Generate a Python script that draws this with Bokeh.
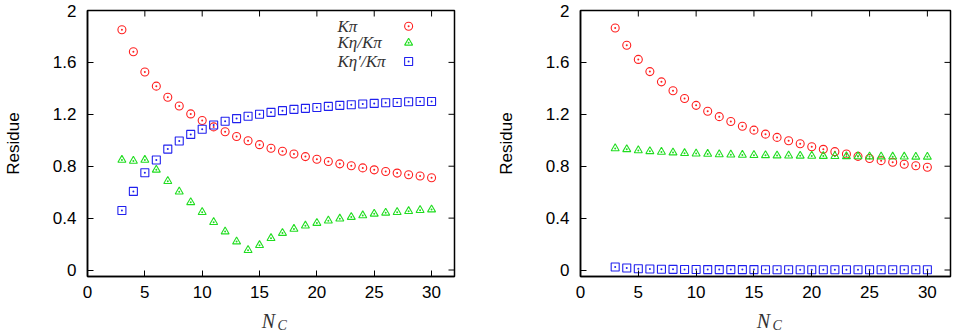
import math
from bokeh.plotting import figure
from bokeh.layouts import row, column
from bokeh.models import FixedTicker, CustomJSTickFormatter, Range1d, Label
from bokeh.core.properties import value
from bokeh.embed import file_html
from bokeh.resources import INLINE

# ---------------- data ----------------
NC = [3, 4, 5, 6, 7, 8, 9, 10, 11, 12, 13, 14, 15, 16, 17, 18, 19, 20,
      21, 22, 23, 24, 25, 26, 27, 28, 29, 30]

# left panel
left_kpi = [1.852, 1.682, 1.526, 1.417, 1.332, 1.264, 1.203, 1.152, 1.103, 1.065,
            1.029, 0.996, 0.966, 0.938, 0.915, 0.894, 0.874, 0.854, 0.836, 0.818,
            0.803, 0.787, 0.772, 0.759, 0.747, 0.734, 0.724, 0.711]
left_keta = [0.848, 0.841, 0.848, 0.772, 0.685, 0.604, 0.522, 0.446, 0.369, 0.296,
             0.219, 0.153, 0.191, 0.245, 0.285, 0.316, 0.341, 0.362, 0.380, 0.395,
             0.408, 0.420, 0.433, 0.441, 0.446, 0.453, 0.461, 0.466]
left_ketap = [0.459, 0.606, 0.749, 0.848, 0.932, 0.994, 1.045, 1.085, 1.118, 1.146,
              1.167, 1.185, 1.200, 1.215, 1.228, 1.238, 1.246, 1.253, 1.261, 1.269,
              1.274, 1.279, 1.284, 1.289, 1.291, 1.297, 1.299, 1.299]

# right panel
right_kpi = [1.865, 1.732, 1.623, 1.529, 1.450, 1.381, 1.322, 1.269, 1.223, 1.182,
             1.144, 1.108, 1.078, 1.047, 1.022, 0.996, 0.973, 0.950, 0.930, 0.912,
             0.894, 0.876, 0.859, 0.843, 0.831, 0.815, 0.803, 0.792]
right_keta = [0.937, 0.930, 0.922, 0.915, 0.910, 0.905, 0.900, 0.897, 0.894, 0.891,
              0.889, 0.887, 0.885, 0.884, 0.882, 0.881, 0.880, 0.879, 0.878, 0.877,
              0.876, 0.875, 0.874, 0.874, 0.873, 0.873, 0.872, 0.872]
right_ketap = [0.023, 0.015, 0.010, 0.008, 0.006, 0.005, 0.004, 0.004, 0.003, 0.003,
               0.003, 0.003, 0.003, 0.002, 0.002, 0.002, 0.002, 0.002, 0.002, 0.002,
               0.002, 0.002, 0.002, 0.002, 0.002, 0.002, 0.002, 0.002]

series_labels = ["Kπ", "Kη/Kπ", "Kη′/Kπ"]
x_title_main = "N"
x_title_sub = "C"
y_title = "Residue"
x_ticks = [0, 5, 10, 15, 20, 25, 30]
y_ticks = [0, 0.4, 0.8, 1.2, 1.6, 2]
X_MIN, X_MAX = 0, 32
Y_MIN, Y_MAX = -0.05, 2.0

RED = "#ff2020"
GREEN = "#20dd20"
BLUE = "#2020ee"
MARKERS = ["circle_dot", "triangle_dot", "square_dot"]
COLORS = [RED, GREEN, BLUE]

SANS = "Liberation Sans"
SERIF = "Liberation Serif"
TEXT_GREY = "#333333"

PLOT_H = 310
STRIP_H = 22
PANEL_W = 477


def make_panel(border_left, border_right, series, with_legend):
    p = figure(width=PANEL_W, height=PLOT_H, output_backend="svg", toolbar_location=None,
               x_range=Range1d(X_MIN, X_MAX), y_range=Range1d(Y_MIN, Y_MAX),
               min_border_left=border_left, min_border_right=border_right,
               min_border_top=10, min_border_bottom=34)
    p.grid.visible = False
    p.background_fill_color = "white"
    p.border_fill_color = "white"
    p.outline_line_color = "black"
    p.outline_line_width = 1.5

    ytf = CustomJSTickFormatter(code="return String(Math.round(tick*10)/10);")
    for ax in p.xaxis:
        ax.ticker = FixedTicker(ticks=x_ticks)
    for ax in p.yaxis:
        ax.ticker = FixedTicker(ticks=y_ticks)
        ax.formatter = ytf

    for ax in list(p.xaxis) + list(p.yaxis):
        ax.major_tick_in = 6
        ax.major_tick_out = 0
        ax.minor_tick_line_color = None
        ax.axis_line_width = 1.5
        ax.major_tick_line_width = 1
        ax.major_label_text_font = SANS
        ax.major_label_text_font_size = "17px"
        ax.major_label_text_color = "black"

    p.xaxis.major_label_standoff = 9
    p.yaxis.major_label_standoff = 11
    p.yaxis.axis_label = y_title
    p.yaxis.axis_label_text_font = SANS
    p.yaxis.axis_label_text_font_style = "normal"
    p.yaxis.axis_label_text_font_size = "17px"
    p.yaxis.axis_label_text_color = "black"
    p.yaxis.axis_label_standoff = 27

    # mirrored inward ticks on top and right edges (outer half clipped by frame)
    p.scatter(x_ticks, [Y_MAX] * len(x_ticks), marker="dash", angle=math.pi / 2,
              size=12, line_color="black", line_width=1)
    p.scatter([X_MAX] * len(y_ticks), y_ticks, marker="dash",
              size=12, line_color="black", line_width=1)

    for ys, mk, col in zip(series, MARKERS, COLORS):
        p.scatter(NC, ys, marker=mk, size=8, line_color=col, fill_color=None,
                  line_width=1.1)

    if with_legend:
        LEG_TEXT_X = 21.8
        LEG_MARK_X = 28.0
        LEG_Y = [1.879, 1.751, 1.607]
        for lab, yy, mk, col in zip(series_labels, LEG_Y, MARKERS, COLORS):
            p.add_layout(Label(x=LEG_TEXT_X, y=yy, text=lab, text_font=SERIF,
                               text_font_style="italic", text_font_size="17px",
                               text_color=TEXT_GREY, text_align="left",
                               text_baseline="middle"))
            p.scatter([LEG_MARK_X], [yy], marker=mk, size=8, line_color=col,
                      fill_color=None, line_width=1.1)
    return p


def make_strip(n_center_px):
    """Thin strip below a panel carrying the x-axis title N_C (pixel coordinates)."""
    s = figure(width=PANEL_W, height=STRIP_H, output_backend="svg", toolbar_location=None,
               x_range=Range1d(0, PANEL_W), y_range=Range1d(0, STRIP_H),
               x_axis_type=None, y_axis_type=None,
               min_border_left=0, min_border_right=0, min_border_top=0,
               min_border_bottom=0)
    s.grid.visible = False
    s.outline_line_color = None
    s.background_fill_color = "white"
    s.border_fill_color = "white"
    s.text(x=[n_center_px], y=[12], text=[x_title_main], text_font=value(SERIF),
           text_font_style="italic", text_font_size="20px", text_color=TEXT_GREY,
           text_align="center", text_baseline="middle")
    s.text(x=[n_center_px + 9], y=[7], text=[x_title_sub], text_font=value(SERIF),
           text_font_style="italic", text_font_size="14px", text_color=TEXT_GREY,
           text_align="left", text_baseline="middle")
    return s


p1 = make_panel(84, 23, [left_kpi, left_keta, left_ketap], True)
p2 = make_panel(103, 4, [right_kpi, right_keta, right_ketap], False)
s1 = make_strip(268)
s2 = make_strip(286)

layout = column(row(p1, p2, spacing=0), row(s1, s2, spacing=0), spacing=0)
open("out.html", "w").write(file_html(layout, INLINE))
